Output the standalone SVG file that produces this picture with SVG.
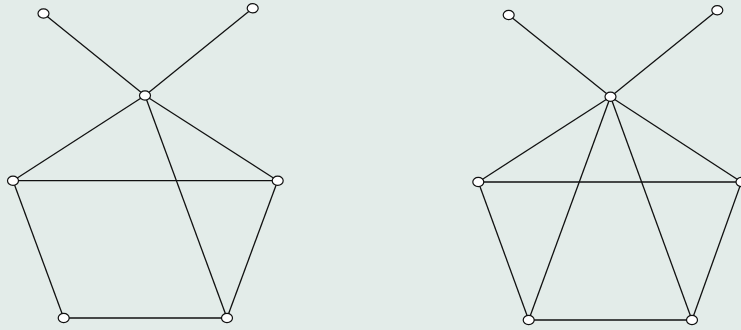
<svg xmlns="http://www.w3.org/2000/svg" width="741" height="330" viewBox="0 0 741 330">
<style>
.e{stroke:#111;stroke-width:1.3;fill:none}
.n{fill:#fff;stroke:#111;stroke-width:1.2}
</style>
<rect width="741" height="330" fill="#e3ece9"/>
<g id="connectors">
<line class="e" x1="43.5" y1="13.5" x2="145" y2="95.5"/>
<line class="e" x1="252.7" y1="8.3" x2="145" y2="95.5"/>
<line class="e" x1="145" y1="95.5" x2="13" y2="180.7"/>
<line class="e" x1="145" y1="95.5" x2="277.7" y2="180.7"/>
<line class="e" x1="145" y1="95.5" x2="227" y2="318"/>
<line class="e" x1="13" y1="180.7" x2="277.7" y2="180.7"/>
<line class="e" x1="13" y1="180.7" x2="63.7" y2="318"/>
<line class="e" x1="63.7" y1="318" x2="227" y2="318"/>
<line class="e" x1="277.7" y1="180.7" x2="227" y2="318"/>
<line class="e" x1="508.7" y1="15" x2="610.5" y2="96.7"/>
<line class="e" x1="717.3" y1="10.3" x2="610.5" y2="96.7"/>
<line class="e" x1="610.5" y1="96.7" x2="478.3" y2="182"/>
<line class="e" x1="610.5" y1="96.7" x2="741.5" y2="182"/>
<line class="e" x1="610.5" y1="96.7" x2="528.7" y2="320"/>
<line class="e" x1="610.5" y1="96.7" x2="692" y2="320"/>
<line class="e" x1="478.3" y1="182" x2="741.5" y2="182"/>
<line class="e" x1="478.3" y1="182" x2="528.7" y2="320"/>
<line class="e" x1="528.7" y1="320" x2="692" y2="320"/>
<line class="e" x1="741.5" y1="182" x2="692" y2="320"/>
</g>
<g id="a1"><ellipse class="n" cx="43.5" cy="13.5" rx="5.5" ry="4.6"/></g>
<g id="a2"><ellipse class="n" cx="252.7" cy="8.3" rx="5.5" ry="4.6"/></g>
<g id="a3"><ellipse class="n" cx="145" cy="95.5" rx="5.5" ry="4.6"/></g>
<g id="a4"><ellipse class="n" cx="13" cy="180.7" rx="5.5" ry="4.6"/></g>
<g id="a5"><ellipse class="n" cx="277.7" cy="180.7" rx="5.5" ry="4.6"/></g>
<g id="a6"><ellipse class="n" cx="63.7" cy="318" rx="5.5" ry="4.6"/></g>
<g id="a7"><ellipse class="n" cx="227" cy="318" rx="5.5" ry="4.6"/></g>
<g id="b1"><ellipse class="n" cx="508.7" cy="15" rx="5.5" ry="4.6"/></g>
<g id="b2"><ellipse class="n" cx="717.3" cy="10.3" rx="5.5" ry="4.6"/></g>
<g id="b3"><ellipse class="n" cx="610.5" cy="96.7" rx="5.5" ry="4.6"/></g>
<g id="b4"><ellipse class="n" cx="478.3" cy="182" rx="5.5" ry="4.6"/></g>
<g id="b5"><ellipse class="n" cx="741.5" cy="182" rx="5.5" ry="4.6"/></g>
<g id="b6"><ellipse class="n" cx="528.7" cy="320" rx="5.5" ry="4.6"/></g>
<g id="b7"><ellipse class="n" cx="692" cy="320" rx="5.5" ry="4.6"/></g>
</svg>
